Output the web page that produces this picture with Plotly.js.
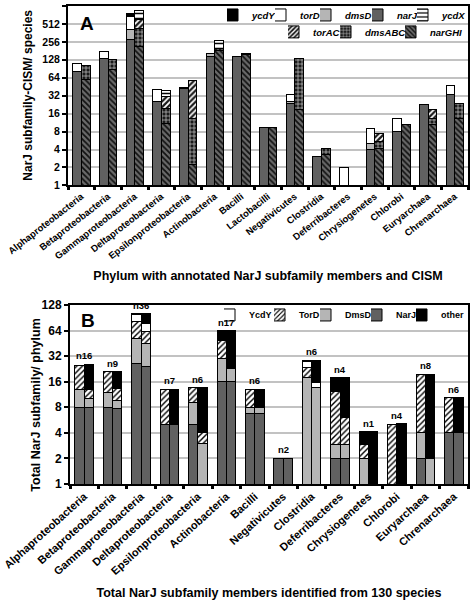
<!DOCTYPE html>
<html><head><meta charset="utf-8">
<script src="https://cdn.plot.ly/plotly-3.0.1.min.js"></script>
<style>html,body{margin:0;padding:0;background:#fff}#chart{width:473px;height:604px}</style>
</head><body><div id="chart"></div>
<script>
// ---------- Panel A data ----------
const phylaA = ["Alphaproteobacteria","Betaproteobacteria","Gammaproteobacteria","Deltaproteobacteria","Epsilonproteobacteria","Actinobacteria","Bacilli","Lactobacilli","Negativicutes","Clostridia","Deferribacteres","Chrysiogenetes","Chlorobi","Euryarchaea","Chrenarchaea"];
// NarJ subfamily bar (left of each pair)
const narJ_A  = [81, 136, 276, 26, 42, 144, 147, 9.3, 24, 3.05, 0, 4, 8, 22.4, 34];
const dmsD_A  = [0, 0, 140, 0, 0, 19, 0, 0, 2, 0, 0, 1.1, 0, 0, 0];
const torD_A  = [31, 39, 279, 15, 0, 0, 0, 0, 7, 0, 2, 4, 5.2, 0, 14];
const ycdY_A  = [0, 0, 80, 0, 1.6, 0, 0, 0, 0, 0, 0, 0, 0, 0, 0];
// CISM bar (right of each pair)
const narGHI_A = [60, 87, 213, 11, 2.2, 180, 158, 9.5, 18.5, 3.3, 0, 4.2, 10.4, 10.4, 13.4];
const dmsABC_A = [41, 45, 219, 8.6, 11.2, 19, 5, 0, 117.5, 0.9, 0, 1.3, 0, 3, 10];
const torAC_A  = [0, 0, 165, 11.2, 45, 0, 0, 0, 0, 0, 0, 1.8, 0, 5.6, 0];
const ycdX_A   = [0, 0, 257, 8.2, 0, 76, 0, 0, 0, 0, 0, 0, 0, 0, 0];
const ticksA = [1,2,4,8,16,32,64,128,256,512,1024];

// ---------- Panel B data ----------
const phylaB = ["Alphaproteobacteria","Betaproteobacteria","Gammaproteobacteria","Deltaproteobacteria","Epsilonproteobacteria","Actinobacteria","Bacilli","Negativicutes","Clostridia","Deferribacteres","Chrysiogenetes","Chlorobi","Euryarchaea","Chrenarchaea"];
const nLabels = ["n16","n9","n36","n7","n6","n17","n6","n2","n6","n4","n1","n4","n8","n6"];
const NarJ_L  = [8, 8, 26, 5, 5, 16, 6.8, 2, 0, 2, 0, 0, 2, 4];
const DmsD_L  = [5, 4, 25.5, 0, 4, 14, 1.1, 0, 17.8, 0.9, 2, 0, 2, 0];
const TorD_L  = [12, 9, 29.5, 8, 4.5, 19, 5.2, 0, 6, 9.2, 0.9, 5, 15.5, 6.3];
const YcdY_L  = [0, 0, 18, 0, 0, 0, 0, 0, 3.5, 0, 0, 0, 0, 0];
const other_L = [0, 0, 2.5, 0, 0, 14.5, 0, 0, 1.3, 5.7, 1.2, 0, 0, 0];
const NarJ_R  = [8, 7.7, 24, 5, 0, 16, 6.8, 2, 0, 2, 0, 0, 0, 4];
const DmsD_R  = [2, 2, 21, 0, 3, 7, 1.1, 0, 13.6, 0.9, 0, 0, 2, 0];
const TorD_R  = [3, 3.5, 16.7, 0, 1, 0, 0, 0, 0, 3.1, 0, 0, 0, 0];
const YcdY_R  = [0, 0, 15.6, 0, 0, 0, 0, 0, 2.2, 0, 0, 0, 0, 0];
const other_R = [12.6, 7.8, 24.2, 8, 9.6, 40.6, 5.2, 0, 12.8, 11.8, 4.1, 5.1, 17.5, 6.3];
const ticksB = [1,2,4,8,16,32,64,128];

// ---------- helpers ----------
const H = 604, ML = 68, PW = 400;
const yp = p => 1 - p / H;          // pixel row -> paper y
const xp = p => (p - ML) / PW;      // pixel col -> paper x
const FONT = "Liberation Sans, Arial, sans-serif";
const nz = a => a.map(v => v > 0 ? v : null);
const BW = 0.325;

const DARK = "#616161", LIGHT = "#b5b5b5";
function bar(name, x, y, xa, ya, left, marker, legend, show) {
  return {type: "bar", name: name, x: x, y: nz(y), xaxis: xa, yaxis: ya,
    offset: left ? -BW : 0, width: BW,
    marker: Object.assign({line: {color: "#000", width: 1}}, marker),
    legend: legend, showlegend: show, hoverinfo: "name+y"};
}
const solid = c => ({color: c});
const patt = (shape, bg, fg, size, sol) => ({color: bg, pattern: {shape: shape, bgcolor: bg, fgcolor: fg, size: size, solidity: sol, fillmode: "replace"}});

const traces = [
  // Panel A left stack (NarJ subfamily)
  bar("narJ", phylaA, narJ_A, "x", "y", true, solid(DARK), "legend4", true),
  bar("dmsD", phylaA, dmsD_A, "x", "y", true, solid(LIGHT), "legend3", true),
  bar("torD", phylaA, torD_A, "x", "y", true, solid("#ffffff"), "legend2", true),
  bar("ycdY", phylaA, ycdY_A, "x", "y", true, solid("#000000"), "legend", true),
  // Panel A right stack (CISM)
  bar("narGHI", phylaA, narGHI_A, "x2", "y", false, patt("\\", "#6a6a6a", "#111", 4, 0.45), "legend8", true),
  bar("dmsABC", phylaA, dmsABC_A, "x2", "y", false, patt("+", "#1a1a1a", "#d0d0d0", 4, 0.3), "legend7", true),
  bar("torAC", phylaA, torAC_A, "x2", "y", false, patt("/", "#1a1a1a", "#ffffff", 4, 0.45), "legend6", true),
  bar("ycdX", phylaA, ycdX_A, "x2", "y", false, patt("-", "#ffffff", "#000", 5, 0.3), "legend5", true),
  // Panel B left
  bar("NarJ", phylaB, NarJ_L, "x3", "y2", true, solid(DARK), "legend12", true),
  bar("DmsD", phylaB, DmsD_L, "x3", "y2", true, solid(LIGHT), "legend11", true),
  bar("TorD", phylaB, TorD_L, "x3", "y2", true, patt("/", "#ffffff", "#000", 4, 0.35), "legend10", true),
  bar("YcdY", phylaB, YcdY_L, "x3", "y2", true, solid("#ffffff"), "legend9", true),
  bar("other", phylaB, other_L, "x3", "y2", true, solid("#000000"), "legend13", true),
  // Panel B right
  bar("NarJ", phylaB, NarJ_R, "x4", "y2", false, solid(DARK), "legend12", false),
  bar("DmsD", phylaB, DmsD_R, "x4", "y2", false, solid(LIGHT), "legend11", false),
  bar("TorD", phylaB, TorD_R, "x4", "y2", false, patt("/", "#ffffff", "#000", 4, 0.35), "legend10", false),
  bar("YcdY", phylaB, YcdY_R, "x4", "y2", false, solid("#ffffff"), "legend9", false),
  bar("other", phylaB, other_R, "x4", "y2", false, solid("#000000"), "legend13", false)
];

const bold = (s, extra) => Object.assign({family: FONT, size: s, color: "#000", weight: "bold"}, extra || {});

const catAxis = (cats, dom, anchor, angle, fs, title, so) => ({
  type: "category", categoryorder: "array", categoryarray: cats, range: [-0.5, cats.length - 0.5],
  domain: dom, anchor: anchor, showline: true, linewidth: 2, linecolor: "#000", mirror: true,
  ticks: "outside", tickson: "boundaries", ticklen: 3, tickwidth: 3, tickcolor: "#000",
  tickangle: angle, tickfont: bold(fs), showgrid: false, zeroline: false, automargin: false,
  title: {text: title, font: bold(12.5), standoff: so}
});
const hiddenAxis = (cats, over, anchor) => ({
  type: "category", categoryorder: "array", categoryarray: cats, range: [-0.5, cats.length - 0.5],
  overlaying: over, anchor: anchor, visible: false
});
const logAxis = (ticks, dom, anchor, fs) => ({
  type: "log", range: [0, Math.log10(ticks[ticks.length - 1])], domain: dom, anchor: anchor,
  tickvals: ticks, ticktext: ticks.map(String), ticks: "outside", ticklen: 4, tickwidth: 2, tickcolor: "#000",
  tickfont: bold(fs), showgrid: true, gridcolor: "#c2c2c2", gridwidth: 2,
  showline: true, linewidth: 2, linecolor: "#000", mirror: true, zeroline: false, automargin: false
});

// n-labels above each pair in panel B
const annotations = phylaB.map((c, i) => {
  const tL = NarJ_L[i] + DmsD_L[i] + TorD_L[i] + YcdY_L[i] + other_L[i];
  const tR = NarJ_R[i] + DmsD_R[i] + TorD_R[i] + YcdY_R[i] + other_R[i];
  return {xref: "x3", yref: "y2", x: c, y: Math.log10(Math.max(tL, tR)), text: nLabels[i],
    showarrow: false, yanchor: "bottom", yshift: 1, font: bold(9.5)};
});
annotations.push({xref: "paper", yref: "paper", x: xp(78), y: yp(21.5), xanchor: "left", yanchor: "middle", text: "A", showarrow: false, font: bold(19)});
annotations.push({xref: "paper", yref: "paper", x: xp(79), y: yp(320), xanchor: "left", yanchor: "middle", text: "B", showarrow: false, font: bold(19)});
// y-axis titles
annotations.push({xref: "paper", yref: "paper", x: xp(28), y: yp(94), xanchor: "center", yanchor: "middle", textangle: -90, text: "NarJ subfamily-CISM/ species", showarrow: false, font: bold(12)});
annotations.push({xref: "paper", yref: "paper", x: xp(36), y: yp(405), xanchor: "center", yanchor: "middle", textangle: -90, text: "Total NarJ subfamily/ phylum", showarrow: false, font: bold(12.5)});

// one-entry legends: [text start px, row centre px, font]
const legFontA = bold(9.5, {style: "italic"}), legFontB = bold(9);
const legSpec = [
  [252, 13, legFontA], [300, 13, legFontA], [345, 13, legFontA], [397, 13, legFontA], [442, 13, legFontA],
  [313, 30, legFontA], [365, 30, legFontA], [430, 30, legFontA],
  [249, 314, legFontB], [299, 314, legFontB], [345, 314, legFontB], [396, 314, legFontB], [441, 314, legFontB]
];

const layout = {
  width: 473, height: 604, margin: {l: ML, r: 5, t: 0, b: 0},
  paper_bgcolor: "#fff", plot_bgcolor: "#fff", barmode: "stack", bargap: 0,
  font: {family: FONT, color: "#000"},
  xaxis: catAxis(phylaA, [0, 1], "y", -38, 9.5, "Phylum with annotated NarJ subfamily members and CISM", 11),
  xaxis2: hiddenAxis(phylaA, "x", "y"),
  yaxis: logAxis(ticksA, [yp(184), yp(4)], "x", 10.5),
  xaxis3: catAxis(phylaB, [xp(70), 1], "y2", -42, 11, "Total NarJ subfamily members identified from 130 species", 12),
  xaxis4: hiddenAxis(phylaB, "x3", "y2"),
  yaxis2: logAxis(ticksB, [yp(483.5), yp(304)], "x3", 12),
  annotations: annotations
};
legSpec.forEach((s, i) => {
  layout[i === 0 ? "legend" : "legend" + (i + 1)] = {
    orientation: "h", x: xp(s[0] - 25), xanchor: "left", y: yp(s[1]), yanchor: "middle",
    bgcolor: "rgba(0,0,0,0)", borderwidth: 0, font: s[2], itemwidth: 30, indentation: -15
  };
});

Plotly.newPlot("chart", traces, layout, {displayModeBar: false, staticPlot: true});
</script>
</body></html>
